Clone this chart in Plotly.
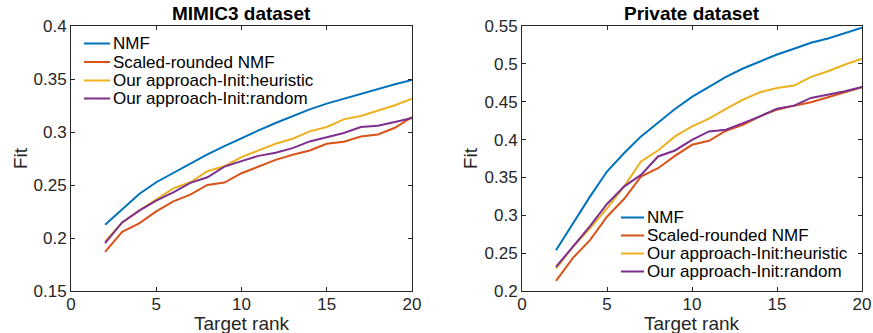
import plotly.graph_objects as go

ranks = list(range(2, 21))

names = ["NMF", "Scaled-rounded NMF", "Our approach-Init:heuristic", "Our approach-Init:random"]
colors = ["#0072BD", "#D95319", "#EDB120", "#7E2F8E"]

mimic_nmf = [0.2125, 0.227, 0.2415, 0.2526, 0.2614, 0.270, 0.2788, 0.2867, 0.2943, 0.3015,
             0.3085, 0.3151, 0.3214, 0.3268, 0.3315, 0.3362, 0.341, 0.345, 0.349]
mimic_scaled = [0.187, 0.2059, 0.2138, 0.2251, 0.2346, 0.2409, 0.250, 0.2523, 0.2611, 0.2671,
                0.2737, 0.2785, 0.2826, 0.2889, 0.2908, 0.2958, 0.2977, 0.304, 0.3141]
mimic_heur = [0.1967, 0.2147, 0.2258, 0.2362, 0.2469, 0.2526, 0.263, 0.2677, 0.2763, 0.2826,
              0.2889, 0.2936, 0.3006, 0.3047, 0.3119, 0.3151, 0.3205, 0.3252, 0.3315]
mimic_rand = [0.1952, 0.2147, 0.2258, 0.2352, 0.2431, 0.252, 0.2573, 0.2674, 0.2725, 0.2775,
              0.2804, 0.2848, 0.2911, 0.2952, 0.299, 0.3047, 0.3059, 0.3094, 0.3132]

priv_nmf = [0.2539, 0.29, 0.3246, 0.3578, 0.382, 0.4042, 0.4218, 0.4404, 0.4563, 0.4696,
            0.4828, 0.4939, 0.5036, 0.5124, 0.5199, 0.5279, 0.5336, 0.5412, 0.5478]
priv_scaled = [0.2133, 0.2438, 0.2672, 0.2981, 0.3215, 0.3511, 0.3622, 0.3785, 0.3931, 0.3984,
               0.4117, 0.4196, 0.4307, 0.4395, 0.4448, 0.4492, 0.4559, 0.4625, 0.4691]
priv_heur = [0.2296, 0.2583, 0.2826, 0.3092, 0.3379, 0.371, 0.3856, 0.4042, 0.4174, 0.4276,
             0.4404, 0.4528, 0.4625, 0.4682, 0.4713, 0.4828, 0.4903, 0.4992, 0.5067]
priv_rand = [0.2318, 0.2592, 0.2857, 0.3149, 0.3379, 0.3533, 0.3777, 0.3856, 0.3997, 0.4108,
             0.413, 0.4218, 0.4307, 0.4408, 0.4448, 0.455, 0.4594, 0.4638, 0.4696]

x_ticks = [0, 5, 10, 15, 20]
left_yticks = [0.15, 0.2, 0.25, 0.3, 0.35, 0.4]
left_yticklabels = ["0.15", "0.2", "0.25", "0.3", "0.35", "0.4"]
right_yticks = [0.2, 0.25, 0.3, 0.35, 0.4, 0.45, 0.5, 0.55]
right_yticklabels = ["0.2", "0.25", "0.3", "0.35", "0.4", "0.45", "0.5", "0.55"]

titles = ["MIMIC3 dataset", "Private dataset"]
x_title = "Target rank"
y_title = "Fit"

FONT = "Liberation Sans, Arial, Helvetica, sans-serif"
TXT = "#262626"
W, H = 873, 333


def px(v):
    return v / W


def py(v):
    return 1 - v / H


fig = go.Figure()
for name, col, ys in zip(names, colors, [mimic_nmf, mimic_scaled, mimic_heur, mimic_rand]):
    fig.add_trace(go.Scatter(x=ranks, y=ys, mode="lines", name=name, showlegend=False,
                             line=dict(color=col, width=2), xaxis="x", yaxis="y"))
for name, col, ys in zip(names, colors, [priv_nmf, priv_scaled, priv_heur, priv_rand]):
    fig.add_trace(go.Scatter(x=ranks, y=ys, mode="lines", name=name, showlegend=False,
                             line=dict(color=col, width=2), xaxis="x2", yaxis="y2"))

axis_common = dict(
    showgrid=False, zeroline=False, showline=True, linecolor="#262626", linewidth=1,
    mirror="ticks", ticks="inside", ticklen=4, tickcolor="#262626", automargin=False,
    tickfont=dict(family=FONT, size=17, color=TXT),
)
xaxis_extra = dict(ticklabelstandoff=-2)

ydom = [py(291), py(26)]

annotations = []
shapes = []

for cx, t in zip([241.5, 692], titles):
    annotations.append(dict(text="<b>" + t + "</b>", x=px(cx), y=py(13), xref="paper", yref="paper",
                            showarrow=False, font=dict(family=FONT, size=19, color="#000"),
                            xanchor="center", yanchor="middle"))
    annotations.append(dict(text=x_title, x=px(cx), y=py(323.5), xref="paper", yref="paper",
                            showarrow=False, font=dict(family=FONT, size=19, color=TXT),
                            xanchor="center", yanchor="middle"))
for fx in [20, 470]:
    annotations.append(dict(text=y_title, x=px(fx), y=py(158), xref="paper", yref="paper",
                            showarrow=False, textangle=-90, font=dict(family=FONT, size=19, color=TXT),
                            xanchor="center", yanchor="middle"))

legend_specs = [
    (84, 110, [43.5, 62, 80.5, 98.5]),
    (621, 644, [217.5, 235.5, 253.5, 271.5]),
]
for x0, x1, rows in legend_specs:
    for name, col, ry in zip(names, colors, rows):
        shapes.append(dict(type="line", xref="paper", yref="paper", x0=px(x0), x1=px(x1),
                           y0=py(ry), y1=py(ry), line=dict(color=col, width=2)))
        annotations.append(dict(text=name, x=px(x1 + 1), y=py(ry), xref="paper", yref="paper",
                                showarrow=False, font=dict(family=FONT, size=17, color="#000"),
                                xanchor="left", yanchor="middle"))

fig.update_layout(
    width=W, height=H,
    margin=dict(l=0, r=0, t=0, b=0),
    paper_bgcolor="white", plot_bgcolor="white",
    font=dict(family=FONT, color=TXT),
    showlegend=False,
    xaxis=dict(domain=[px(71), px(412)], range=[0, 20], tickvals=x_ticks, anchor="y",
               **axis_common, **xaxis_extra),
    yaxis=dict(domain=ydom, range=[0.15, 0.4], tickvals=left_yticks, ticktext=left_yticklabels,
               anchor="x", **axis_common),
    xaxis2=dict(domain=[px(522), px(862)], range=[0, 20], tickvals=x_ticks, anchor="y2",
                **axis_common, **xaxis_extra),
    yaxis2=dict(domain=ydom, range=[0.2, 0.55], tickvals=right_yticks, ticktext=right_yticklabels,
                anchor="x2", **axis_common),
    annotations=annotations,
    shapes=shapes,
)

fig.write_html("out.html", config={"displayModeBar": False},
               post_script="document.body.style.margin='0';")
